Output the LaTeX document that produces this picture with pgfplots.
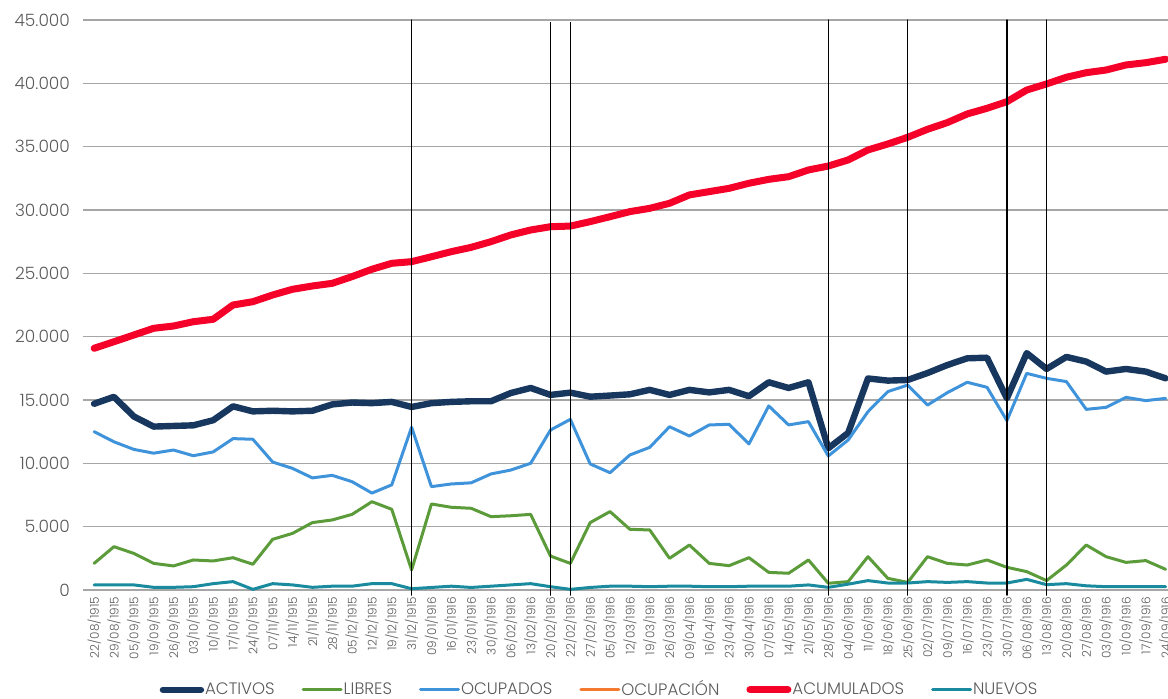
\documentclass[border=0pt]{standalone}
\usepackage{fontspec}
\setmainfont{Poppins}[UprightFont={* Light}]
\usepackage{pgfplots}
\usepackage{pgfplotstable}
\pgfplotsset{compat=1.18}
\definecolor{cAct}{HTML}{17375E}
\definecolor{cLib}{HTML}{5B9B3A}
\definecolor{cOcu}{HTML}{3F93DB}
\definecolor{cPct}{HTML}{F47A30}
\definecolor{cAcu}{HTML}{F50028}
\definecolor{cNue}{HTML}{1A8A9E}
\definecolor{cTxt}{HTML}{5A5A5A}

\pgfplotstableread{
x act lib ocu acu nue
0 14700 2100 12500 19080 400
1 15250 3420 11700 19600 400
2 13700 2890 11100 20130 400
3 12900 2100 10800 20660 210
4 12950 1900 11050 20840 210
5 13000 2370 10600 21180 260
6 13400 2290 10900 21370 500
7 14500 2550 11950 22500 660
8 14100 2030 11900 22760 50
9 14150 4000 10100 23290 500
10 14100 4470 9600 23740 400
11 14150 5320 8850 24000 210
12 14650 5530 9050 24210 300
13 14800 5970 8550 24740 300
14 14750 6970 7650 25320 500
15 14850 6370 8300 25790 500
16 14450 1580 12850 25920 100
17 14750 6790 8160 26310 200
18 14850 6530 8370 26710 300
19 14900 6450 8460 27050 200
20 14900 5790 9160 27500 300
21 15550 5860 9470 28030 400
22 15950 5970 10000 28420 500
23 15400 2680 12630 28680 260
24 15580 2100 13470 28730 50
25 15260 5320 9950 29080 200
26 15350 6190 9260 29470 300
27 15450 4790 10660 29870 300
28 15800 4740 11260 30130 260
29 15400 2500 12890 30530 300
30 15800 3550 12160 31190 300
31 15600 2100 13030 31450 260
32 15800 1920 13080 31710 260
33 15300 2550 11530 32110 300
34 16400 1390 14530 32420 300
35 15950 1320 13030 32630 300
36 16400 2370 13290 33160 400
37 11190 530 10580 33470 210
38 12400 660 11840 33950 460
39 16700 2630 14080 34740 740
40 16530 920 15660 35210 550
41 16580 600 16180 35740 550
42 17130 2630 14600 36370 660
43 17760 2100 15580 36900 600
44 18290 1970 16400 37580 660
45 18340 2370 16000 38030 550
46 15130 1790 13370 38550 550
47 18700 1450 17100 39470 840
48 17450 740 16710 39950 420
49 18400 1970 16450 40480 500
50 18030 3550 14260 40840 330
51 17240 2630 14420 41050 260
52 17450 2180 15210 41450 260
53 17240 2320 14950 41630 260
54 16710 1630 15130 41900 260
}\datatable

\begin{document}
\begin{tikzpicture}
\useasboundingbox (-41.5pt,-54.5pt) rectangle (542.5pt,295pt);
\begin{axis}[
  at={(0,0)}, anchor=south west,
  scale only axis, width=542.5pt, height=285pt,
  xmin=-0.56, xmax=54.12, ymin=0, ymax=45000,
  clip=false,
  axis line style={draw=none},
  major tick length=0pt,
  ymajorgrids, grid style={gray!70, line width=0.6pt},
  ytick={0,5000,...,45000},
  scaled y ticks=false,
  /pgf/number format/1000 sep={.},
  /pgf/number format/assume math mode=true,
  yticklabel style={font=\fontsize{8.5}{10}\selectfont, text=cTxt, anchor=east, xshift=-3pt},
  xtick={0,...,54},
  xticklabels={22/08/1915,29/08/1915,05/09/1915,19/09/1915,26/09/1915,03/10/1915,10/10/1915,17/10/1915,24/10/1915,07/11/1915,14/11/1915,21/11/1915,28/11/1915,05/12/1915,12/12/1915,19/12/1915,31/12/1915,09/01/1916,16/01/1916,23/01/1916,30/01/1916,06/02/1916,13/02/1916,20/02/1916,22/02/1916,27/02/1916,05/03/1916,12/03/1916,19/03/1916,26/03/1916,09/04/1916,16/04/1916,23/04/1916,30/04/1916,07/05/1916,14/05/1916,21/05/1916,28/05/1916,04/06/1916,11/06/1916,18/06/1916,25/06/1916,02/07/1916,09/07/1916,16/07/1916,23/07/1916,30/07/1916,06/08/1916,13/08/1916,20/08/1916,27/08/1916,03/09/1916,10/09/1916,17/09/1916,24/09/1916},
  xticklabel style={rotate=90, anchor=east, font=\fontsize{6}{7}\selectfont, text=cTxt},
  legend style={at={(0.4756,-0.175)}, anchor=center, draw=none, fill=none,
    legend columns=-1, font=\fontsize{8.3}{10}\selectfont, text=cTxt,
    /tikz/every even column/.append style={column sep=13pt},
    nodes={inner xsep=0.5pt}},
  legend image code/.code={\draw[#1] (0pt,0pt) -- (19pt,0pt);},
  every axis plot/.append style={line join=round, line cap=round},
]
\addplot[cAct, line width=3.2pt] table[x=x, y=act] {\datatable};
\addlegendentry{ACTIVOS}
\addplot[cLib, line width=1.5pt] table[x=x, y=lib] {\datatable};
\addlegendentry{LIBRES}
\addplot[cOcu, line width=1.5pt] table[x=x, y=ocu] {\datatable};
\addlegendentry{OCUPADOS}
\addlegendimage{cPct, line width=1.5pt}
\addlegendentry{OCUPACIÓN}
\addplot[cAcu, line width=3.5pt] table[x=x, y=acu] {\datatable};
\addlegendentry{ACUMULADOS}
\addplot[cNue, line width=1.5pt] table[x=x, y=nue] {\datatable};
\addlegendentry{NUEVOS}

\addplot[black, line width=0.7pt, forget plot] coordinates {(16,-400) (16,45000)};
\addplot[black, line width=0.7pt, forget plot] coordinates {(23,-400) (23,44800)};
\addplot[black, line width=0.7pt, forget plot] coordinates {(24,-400) (24,44800)};
\addplot[black, line width=0.7pt, forget plot] coordinates {(37,-400) (37,45000)};
\addplot[black, line width=0.7pt, forget plot] coordinates {(41,-400) (41,45000)};
\addplot[black, line width=0.7pt, forget plot] coordinates {(46,-400) (46,45000)};
\addplot[black, line width=0.7pt, forget plot] coordinates {(48,-400) (48,45000)};
\end{axis}
\end{tikzpicture}
\end{document}
